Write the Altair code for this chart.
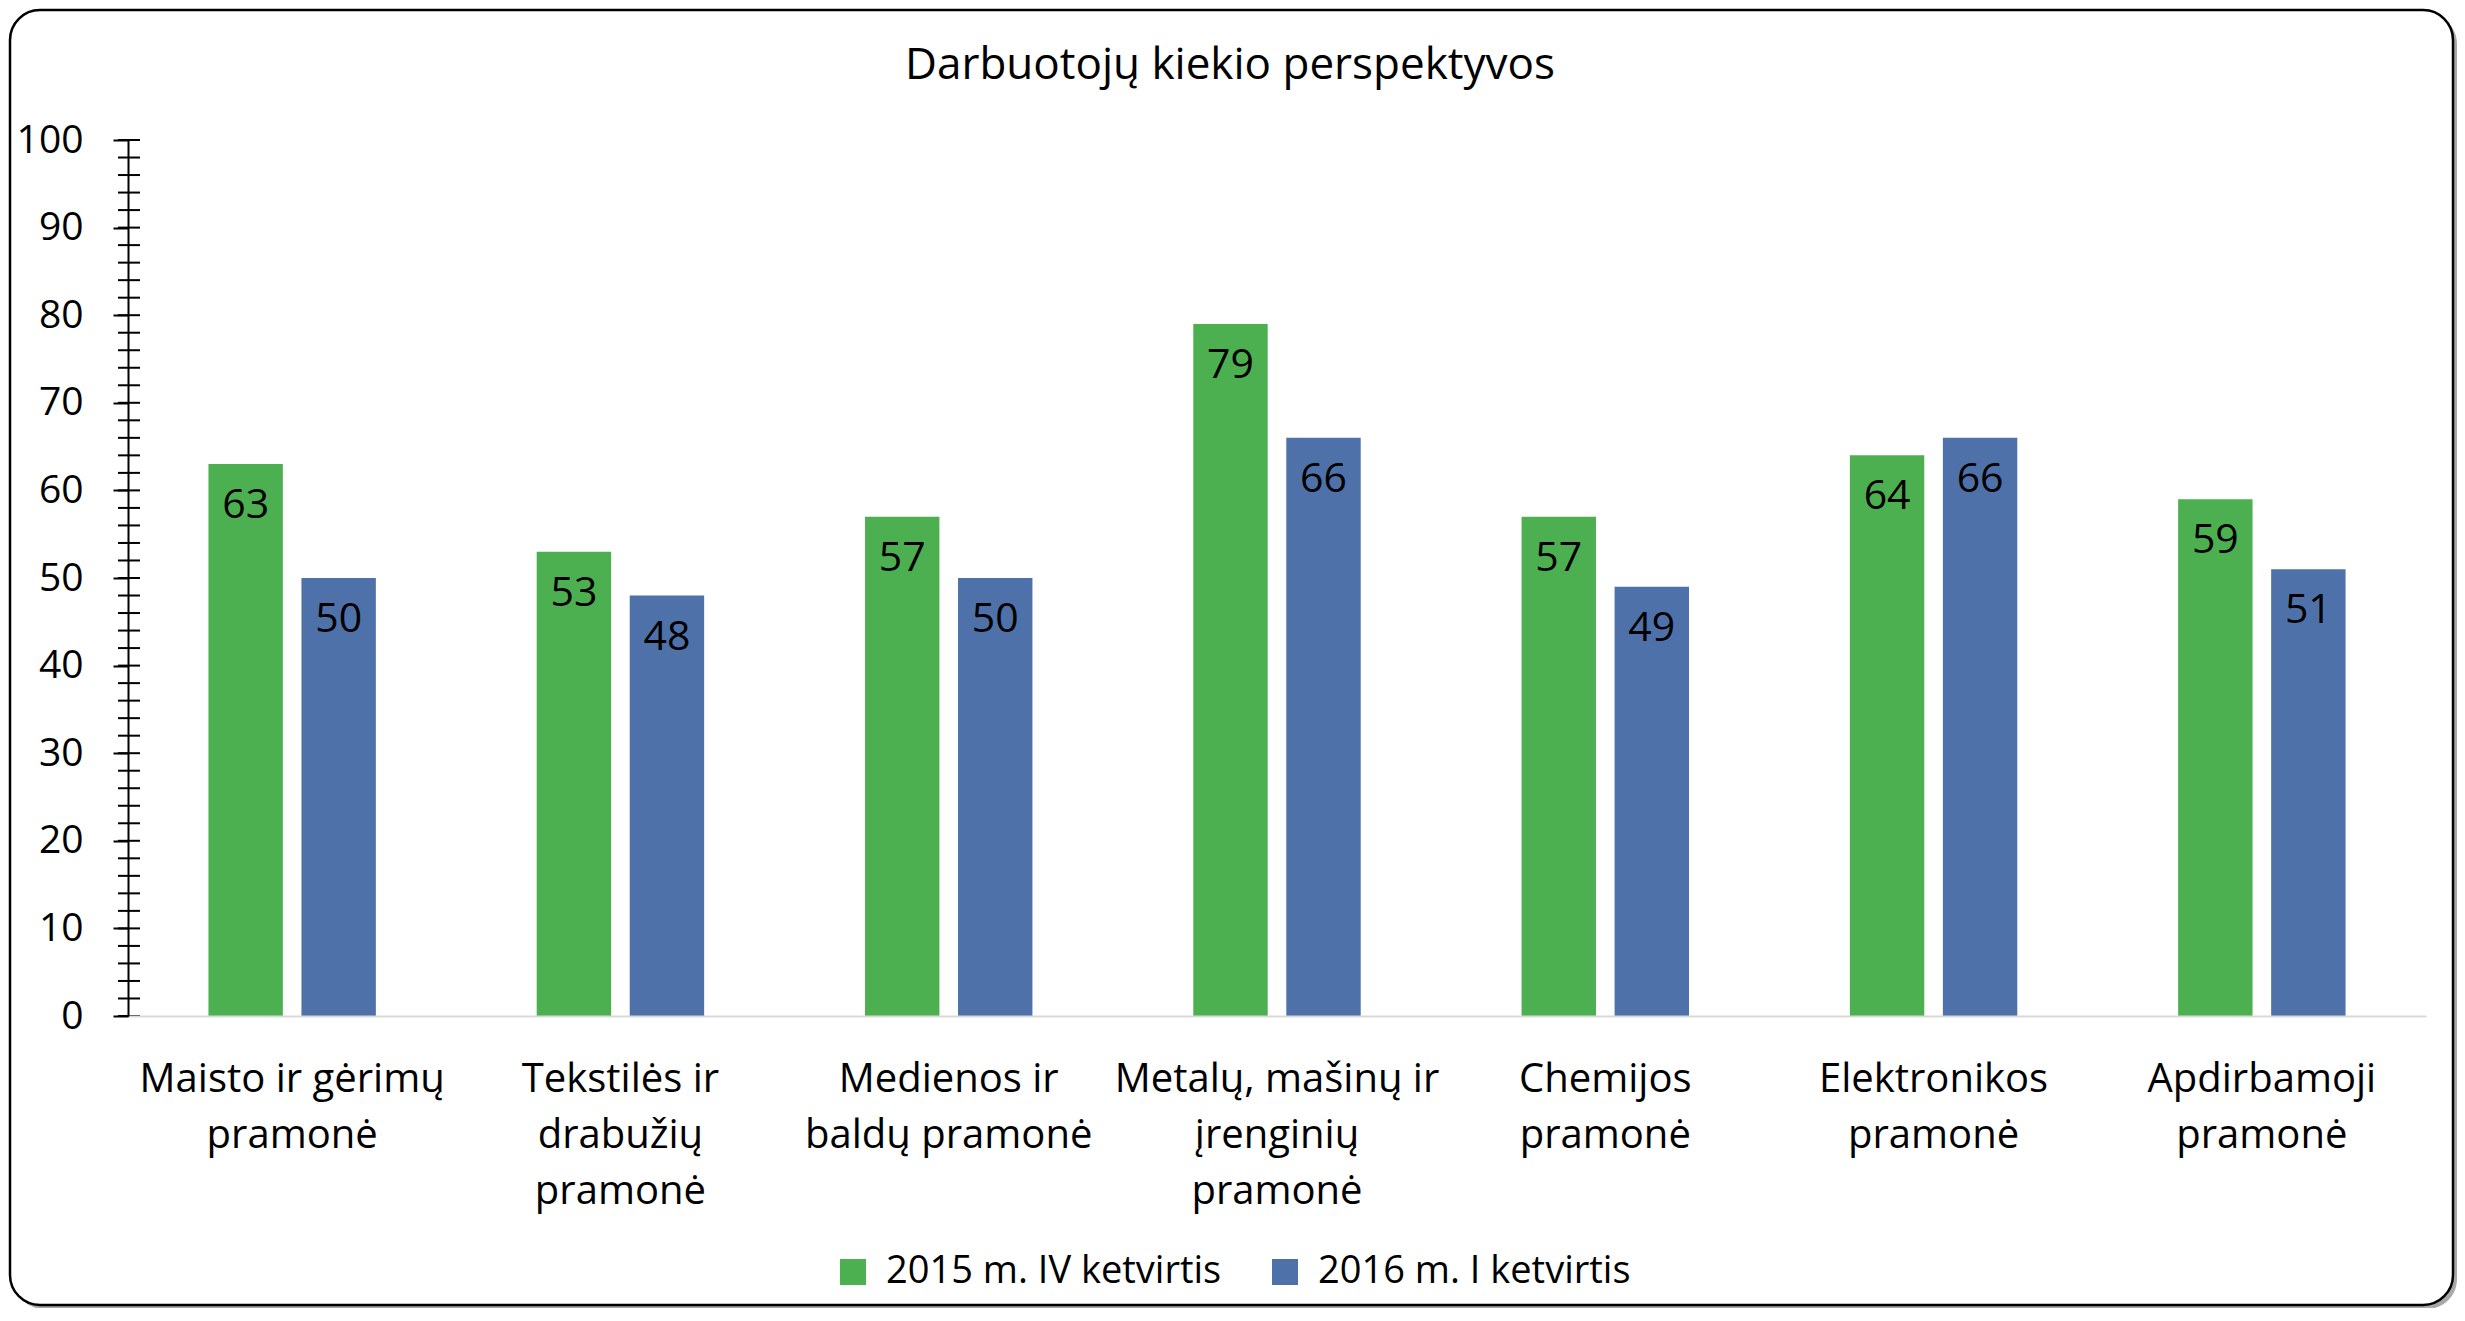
import altair as alt
import pandas as pd

# ---- data -------------------------------------------------------------
CATEGORIES = [
    "Maisto ir gėrimų\npramonė",
    "Tekstilės ir\ndrabužių\npramonė",
    "Medienos ir\nbaldų pramonė",
    "Metalų, mašinų ir\nįrenginių\npramonė",
    "Chemijos\npramonė",
    "Elektronikos\npramonė",
    "Apdirbamoji\npramonė",
]
SERIES = ["2015 m. IV ketvirtis", "2016 m. I ketvirtis"]
VALUES_2015_Q4 = [63, 53, 57, 79, 57, 64, 59]
VALUES_2016_Q1 = [50, 48, 50, 66, 49, 66, 51]
Y_TICKS = [0, 10, 20, 30, 40, 50, 60, 70, 80, 90, 100]
MINOR_TICKS = list(range(0, 101, 2))
COLORS = ["#4CB050", "#4E71A9"]
TITLE = "Darbuotojų kiekio perspektyvos"

rows = []
for c, a, b in zip(CATEGORIES, VALUES_2015_Q4, VALUES_2016_Q1):
    rows.append({"cat": c, "series": SERIES[0], "value": a})
    rows.append({"cat": c, "series": SERIES[1], "value": b})
df = pd.DataFrame(rows)

FONT = "Open Sans"
W, H = 2298, 876

x = alt.X(
    "cat:N", sort=CATEGORIES, title=None,
    scale=alt.Scale(paddingInner=0.49, paddingOuter=0.245),
    axis=alt.Axis(
        labelAngle=0, labelExpr="split(datum.label, '\\n')",
        labelFontSize=40, labelLineHeight=56, labelPadding=43, labelLimit=0,
        ticks=False, domainColor="#d9d9d9", domainWidth=2,
        labelColor="black", labelFont=FONT, zindex=1,
    ),
)
xo = alt.XOffset("series:N", sort=SERIES,
                 scale=alt.Scale(paddingInner=0.2, paddingOuter=0))
y = alt.Y(
    "value:Q", title=None,
    scale=alt.Scale(domain=[0, 100], nice=False),
    axis=alt.Axis(
        values=Y_TICKS, labelFontSize=39, labelPadding=30, tickSize=15,
        tickWidth=2, tickColor="black", domainColor="black", domainWidth=2,
        grid=False, labelColor="black", labelFont=FONT, zindex=1,
    ),
)
color = alt.Color(
    "series:N", sort=SERIES,
    scale=alt.Scale(domain=SERIES, range=COLORS),
    legend=alt.Legend(
        title=None, orient="none", legendX=706, legendY=1113,
        direction="horizontal", symbolType="square", symbolSize=676,
        symbolStrokeWidth=0, labelFontSize=38, labelFont=FONT,
        labelColor="black", labelOffset=14, columnPadding=44, padding=0,
        labelLimit=0,
    ),
)

one = pd.DataFrame({"k": [0]})
shadow = alt.Chart(one).mark_rect(fill="#a8a8a8", cornerRadius=30).encode(
    x=alt.value(-114), x2=alt.value(2329), y=alt.value(-126), y2=alt.value(1169)
)
frame = alt.Chart(one).mark_rect(
    fill="white", stroke="black", strokeWidth=2.5, cornerRadius=30
).encode(
    x=alt.value(-118), x2=alt.value(2325), y=alt.value(-130), y2=alt.value(1165)
)

base = alt.Chart(df).encode(x=x, xOffset=xo, y=y)
bars = base.mark_bar().encode(color=color)
labels = base.mark_text(
    fontSize=41, font=FONT, color="black", baseline="middle", dy=42
).encode(text="value:Q")

ticks = alt.Chart(pd.DataFrame({"value": MINOR_TICKS})).mark_rule(
    color="black", strokeWidth=2
).encode(
    y=y,
    x=alt.value(-10), x2=alt.value(12),
)

chart = alt.layer(shadow, frame, bars, ticks, labels).properties(
    width=W, height=H,
    padding={"left": 120, "top": 132, "right": 31, "bottom": 292},
    autosize=alt.AutoSizeParams(type="none"),
    title=alt.TitleParams(
        TITLE, fontSize=44, font=FONT, color="black", fontWeight="normal",
        anchor="middle", frame="group", offset=0, dy=114, dx=-47,
        baseline="alphabetic",
    ),
).configure_view(stroke=None)

chart.save("out.html", embed_options={"renderer": "svg", "actions": False})
